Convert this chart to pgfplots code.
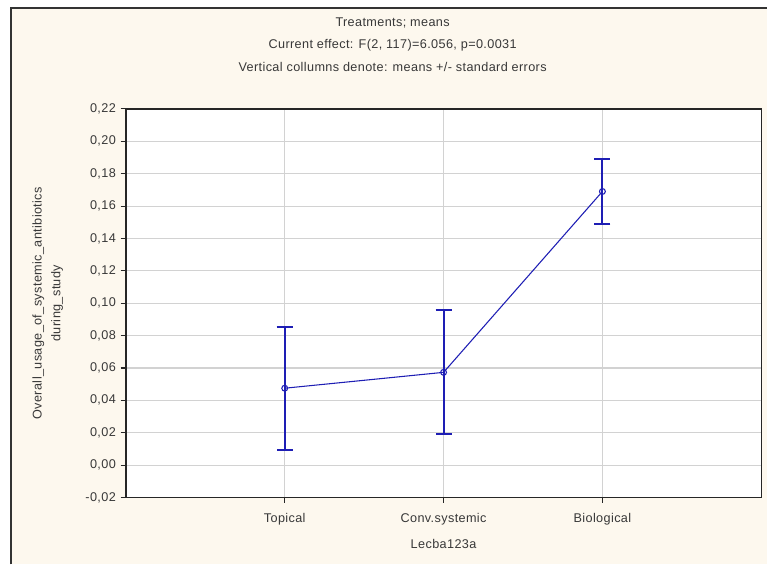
\documentclass[border=0pt]{standalone}
\usepackage{pgfplots}
\pgfplotsset{compat=1.18}
\usetikzlibrary{calc,backgrounds}
\usepackage{fontspec}
\setmainfont{Liberation Sans}[LetterSpace=3]
\definecolor{cream}{HTML}{FDF8EE}
\definecolor{txt}{HTML}{383838}
\definecolor{lineblue}{HTML}{1E1EB4}
\definecolor{gridgray}{HTML}{D2D2D2}
\begin{document}
\begin{tikzpicture}[x=0.75pt,y=0.75pt]
\begin{axis}[
  name=ax, scale only axis,
  width=477pt, height=291.75pt,
  xmin=-1, xmax=3, ymin=-0.02, ymax=0.22,
  xtick={0,1,2}, xticklabels={Topical,Conv.systemic,Biological},
  ytick={-0.02,0,0.02,0.04,0.06,0.08,0.1,0.12,0.14,0.16,0.18,0.2,0.22},
  yticklabel style={/pgf/number format/.cd, fixed, fixed zerofill, precision=2, use comma, assume math mode=true},
  ytick pos=left, xtick pos=bottom,
  tick align=outside, major tick length=4pt,
  grid=major, major grid style={gridgray, line width=0.8pt},
  axis background/.style={fill=white},
  axis line style={black!85, line width=1.1pt},
  tick style={black!85, line width=0.8pt},
  ticklabel style={font=\fontsize{9.5}{11}\selectfont, text=txt},
  xticklabel style={yshift=-4pt},
  xlabel={Lecba123a},
  ylabel={Overall\_usage\_of\_systemic\_antibiotics\\during\_study},
  label style={font=\fontsize{9.5}{14}\selectfont, text=txt},
  xlabel style={yshift=-4pt},
  ylabel style={align=center, yshift=10pt},
  clip=false,
  /pgfplots/error bars/error bar style={draw=lineblue, line width=1.4pt},
]
\coordinate (bl) at (rel axis cs:0,0);
\addplot[lineblue, line width=0.8pt, mark=o, mark size=2.2pt, mark options={line width=0.8pt},
  error bars/.cd, y dir=both, y explicit,
  error bar style={draw=lineblue, line width=1.4pt},
  error mark options={rotate=90, mark size=6pt, line width=1.4pt, draw=lineblue}]
  coordinates {
  (0,0.0475) +- (0,0.0379)
  (1,0.0573) +- (0,0.0383)
  (2,0.1690) +- (0,0.0200)
  };
\end{axis}
\begin{scope}[on background layer]
\fill[white] ($(bl)+(-126,-67)$) rectangle ($(bl)+(642,498)$);
\fill[cream] ($(bl)+(-115,-67)$) rectangle ($(bl)+(642,490)$);
\draw[line width=1.1pt, black!80] ($(bl)+(-115,-67)$) -- ($(bl)+(-115,490)$) -- ($(bl)+(642,490)$);
\end{scope}
\node[text=txt, font=\fontsize{9.5}{11}\selectfont] at ($(bl)+(267,475)$) {Treatments; means};
\node[text=txt, font=\fontsize{9.5}{11}\selectfont] at ($(bl)+(267,453)$) {Current effect: F(2, 117)=6.056, p=0.0031};
\node[text=txt, font=\fontsize{9.5}{11}\selectfont] at ($(bl)+(267,431)$) {Vertical collumns denote: means +/- standard errors};
\end{tikzpicture}
\end{document}
